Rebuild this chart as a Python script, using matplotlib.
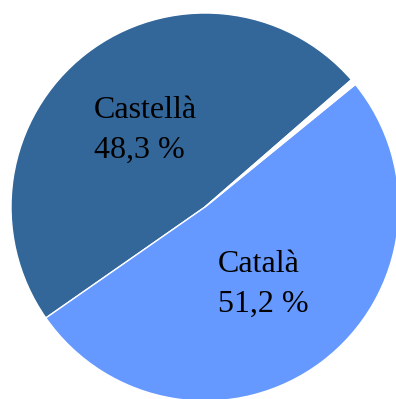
import matplotlib
matplotlib.use("Agg")
from matplotlib import pyplot as plt

# language shares (%), counter-clockwise from the start angle
names = ["Castellà", "Català", ""]
shares = [48.3, 51.2, 0.5]
colors = ["#336699", "#6699FF", "#FFFFFF"]

labels = [
    f"{n}\n{v:.1f} %".replace(".", ",") if n else ""
    for n, v in zip(names, shares)
]

fig = plt.figure(figsize=(3.96, 3.99), dpi=100)
# pie radius 194 px, centre at (205, 207) from the top-left
ax = fig.add_axes([11 / 396, -2 / 399, 388 / 396, 388 / 399])

wedges, texts = ax.pie(
    shares,
    labels=labels,
    colors=colors,
    startangle=41,
    counterclock=True,
    labeldistance=0.5,
    radius=1,
    wedgeprops={"edgecolor": "white", "linewidth": 1.0},
    textprops={"family": "Liberation Serif", "fontsize": 23, "color": "black"},
)
for t in texts:
    t.set_ha("center")
    t.set_va("center")
    t.set_multialignment("left")
    t.set_linespacing(1.5)

ax.set_xlim(-1, 1)
ax.set_ylim(-1, 1)
ax.set_aspect("equal")
ax.axis("off")

fig.savefig("out.png", dpi=100)
